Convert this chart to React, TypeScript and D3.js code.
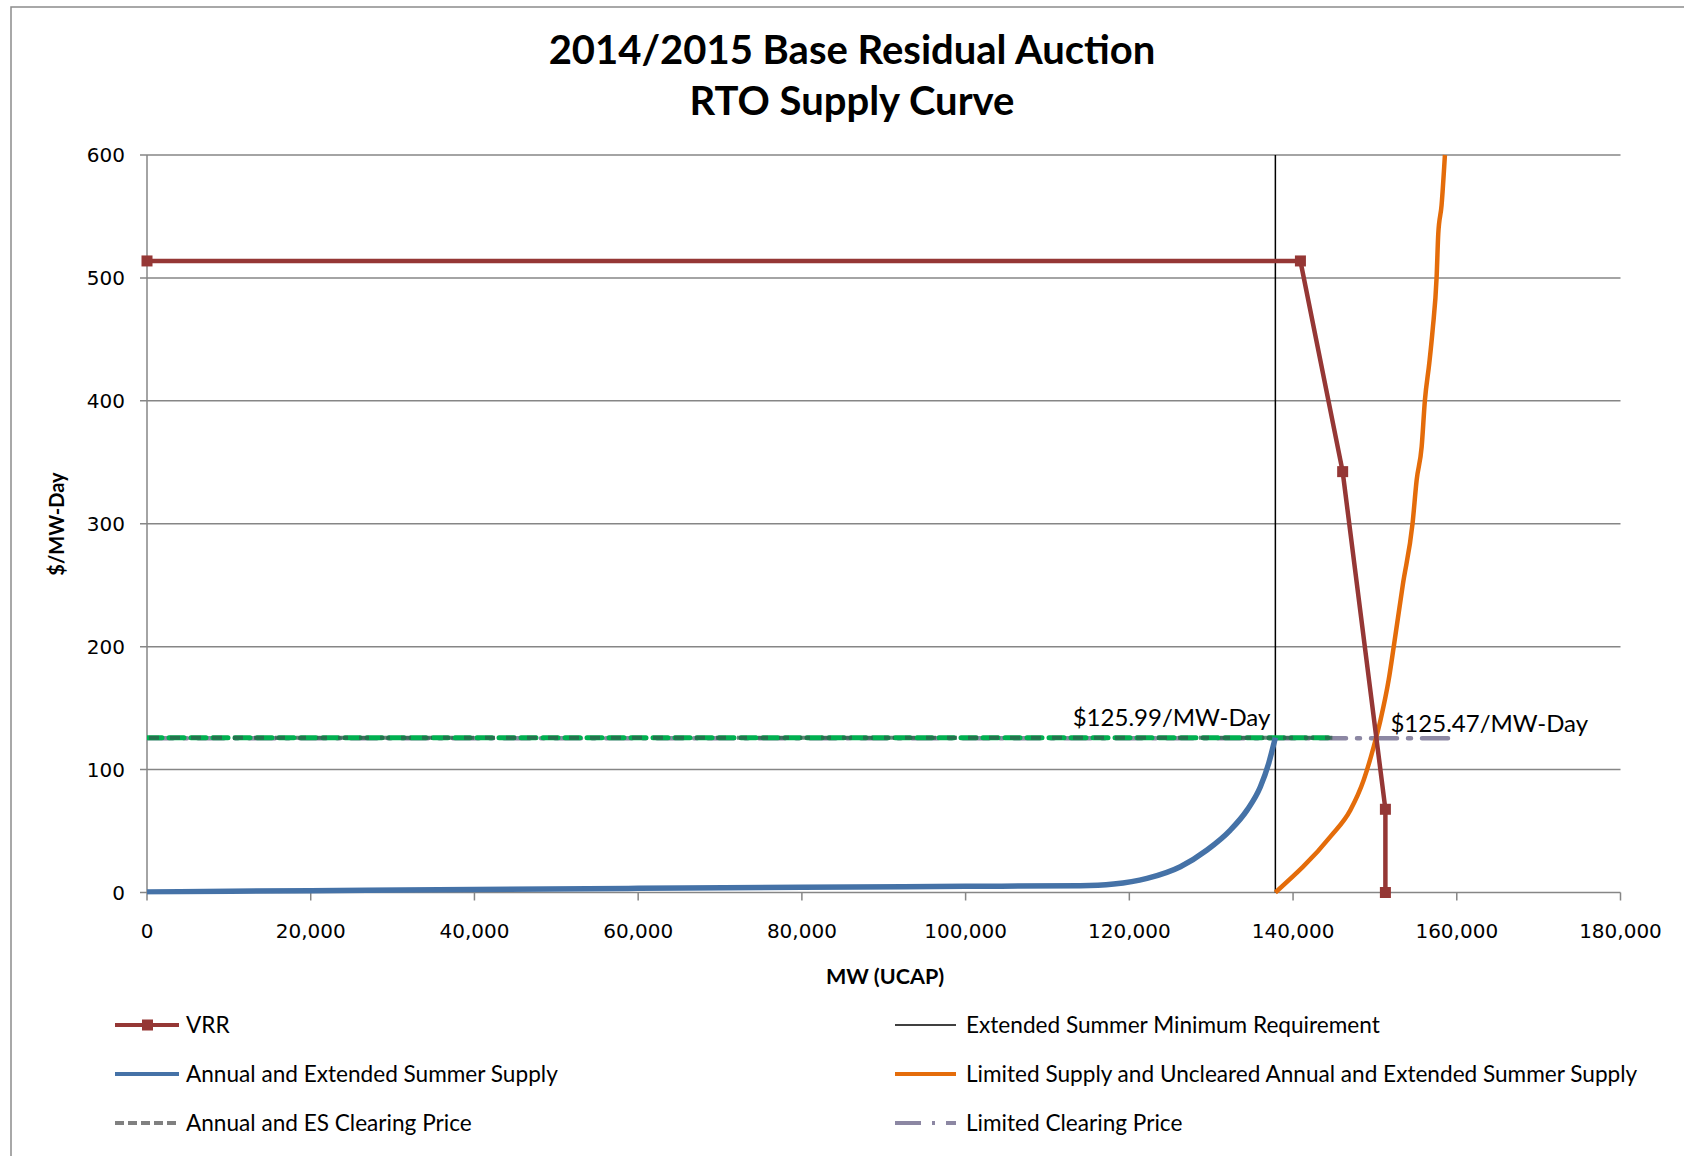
import React from 'react'
import * as d3 from 'd3'

// ---- data ----
const xTicks = [0, 20000, 40000, 60000, 80000, 100000, 120000, 140000, 160000, 180000]
const yTicks = [0, 100, 200, 300, 400, 500, 600]

const vrrMW = [0, 140900, 146060, 151280, 151280]
const vrrPrice = [513.8, 513.8, 342.4, 67.7, 0]

const esMinRequirementMW = 137840

const annualSupplyMW = [
  0, 20000, 40000, 60000, 80000, 100000, 114000, 118090, 122160, 126230,
  129490, 132340, 134380, 136010, 137020, 137840,
]
const annualSupplyPrice = [
  0.5, 1.5, 2.5, 3.4, 4.3, 5.0, 5.5, 6.9, 11.5, 21.0, 34.6, 50.8, 67, 86, 105,
  125.99,
]

const limitedSupplyMW = [
  137840, 144560, 147000, 148630, 149850, 150670, 151680, 152300, 153400,
  154600, 155100, 155710, 156110, 156640, 157050, 157540, 157740, 158140,
  158550,
]
const limitedSupplyPrice = [
  0, 45.4, 67, 91.5, 118.6, 140, 172.9, 200, 250, 300.4, 335.6, 362.7, 400.7,
  430.5, 457.6, 501, 536, 559, 600,
]

const annualClearingPrice = 125.99
const annualClearingMW = [0, 144800]
const limitedClearingPrice = 125.47
const limitedClearingMW = [0, 159400]
const limitedClearingCrossMW = 149700

const titleLines = ['2014/2015 Base Residual Auction', 'RTO Supply Curve']

const colors = {
  vrr: '#953735',
  annual: '#4572A7',
  limited: '#E46C0A',
  green: '#00B050',
  limitedPrice: '#8C87A3',
  esPriceLegend: '#808080',
  grid: '#868686',
}

const W = 1684
const H = 1156
const margin = { left: 147, right: 63.5, top: 155, bottom: 263.5 }

const App: React.FC = () => {
  const x = d3
    .scaleLinear()
    .domain([0, 180000])
    .range([margin.left, W - margin.right])
  const y = d3
    .scaleLinear()
    .domain([0, 600])
    .range([H - margin.bottom, margin.top])

  const line = d3
    .line<[number, number]>()
    .x((d) => x(d[0]))
    .y((d) => y(d[1]))
  const smooth = d3
    .line<[number, number]>()
    .x((d) => x(d[0]))
    .y((d) => y(d[1]))
    .curve(d3.curveMonotoneX)

  const zip = (a: number[], b: number[]) =>
    a.map((v, i) => [v, b[i]] as [number, number])

  const vrr = zip(vrrMW, vrrPrice)
  const annual = zip(annualSupplyMW, annualSupplyPrice)
  const limited = zip(limitedSupplyMW, limitedSupplyPrice)

  const fmt = d3.format(',')
  const label = 'Lato, "Open Sans", sans-serif'
  const tickFont = '"DejaVu Sans", Verdana, sans-serif'

  const legendRows = [1025, 1074, 1123]
  const lx1 = 115
  const lx2 = 895

  const annualPriceLine = line([
    [annualClearingMW[0], annualClearingPrice],
    [annualClearingMW[1], annualClearingPrice],
  ])!
  const limitedPriceLine = line([
    [limitedClearingMW[0], limitedClearingPrice],
    [limitedClearingMW[1], limitedClearingPrice],
  ])!

  return (
    <svg
      width={W}
      height={H}
      style={{ position: 'absolute', left: 0, top: 0, background: '#fff' }}
    >
      <defs>
        <clipPath id="plot">
          <rect
            x={x(0)}
            y={y(600) - 2}
            width={x(180000) - x(0)}
            height={y(0) - y(600) + 4}
          />
        </clipPath>
      </defs>
      {/* outer frame */}
      <path d={`M11,${H + 5} L11,7 L${W + 5},7`} fill="none" stroke="#8c8c8c" strokeWidth={1.5} />

      {/* title */}
      {titleLines.map((t, i) => (
        <text
          key={t}
          x={852}
          y={64 + i * 51}
          textAnchor="middle"
          fontFamily={label}
          fontWeight="bold"
          fontSize={40}
          fill="#000"
        >
          {t}
        </text>
      ))}

      {/* grid */}
      {yTicks.map((t) => (
        <g key={t}>
          <line x1={x(0) - 7} x2={x(180000)} y1={y(t)} y2={y(t)} stroke={colors.grid} strokeWidth={1.5} />
          <text x={125} y={y(t) + 7} textAnchor="end" fontFamily={tickFont} fontSize={20} fill="#000">
            {t}
          </text>
        </g>
      ))}
      <line x1={x(0)} x2={x(0)} y1={y(600)} y2={y(0)} stroke={colors.grid} strokeWidth={1.5} />
      {xTicks.map((t) => (
        <g key={t}>
          <line x1={x(t)} x2={x(t)} y1={y(0)} y2={y(0) + 8} stroke={colors.grid} strokeWidth={1.5} />
          <text x={x(t)} y={938} textAnchor="middle" fontFamily={tickFont} fontSize={20} fill="#000">
            {fmt(t)}
          </text>
        </g>
      ))}

      {/* axis titles */}
      <text x={885} y={984} textAnchor="middle" fontFamily={label} fontWeight="bold" fontSize={21.5}>
        MW (UCAP)
      </text>
      <text
        transform={`translate(64,524) rotate(-90)`}
        textAnchor="middle"
        fontFamily={label}
        fontWeight="bold"
        fontSize={20}
      >
        $/MW-Day
      </text>

      <g clipPath="url(#plot)">
        {/* ES minimum requirement */}
        <line
          x1={x(esMinRequirementMW)}
          x2={x(esMinRequirementMW)}
          y1={y(0)}
          y2={y(600)}
          stroke="#000"
          strokeWidth={1.5}
        />
        {/* limited clearing price */}
        <path
          d={limitedPriceLine}
          stroke={colors.limitedPrice}
          strokeWidth={4.5}
          strokeDasharray="26 11 3 11"
          strokeLinecap="round"
          fill="none"
        />
        {/* annual & ES clearing price */}
        <path
          d={annualPriceLine}
          stroke={colors.green}
          strokeWidth={5}
          strokeDasharray="15 7"
          strokeLinecap="round"
          fill="none"
        />
        <path
          d={annualPriceLine}
          stroke="#2f5f4c"
          strokeOpacity={0.75}
          strokeWidth={4}
          strokeDasharray="10 11"
          strokeDashoffset={-2}
          fill="none"
        />
        {/* supply curves */}
        <path d={smooth(annual)!} stroke={colors.annual} strokeWidth={5.5} fill="none" strokeLinejoin="round" />
        <path d={smooth(limited)!} stroke={colors.limited} strokeWidth={4.5} fill="none" strokeLinejoin="round" />
        {/* VRR */}
        <path d={line(vrr)!} stroke={colors.vrr} strokeWidth={4.5} fill="none" />
      </g>
      {vrr.map((d, i) => (
        <rect key={i} x={x(d[0]) - 5.5} y={y(d[1]) - 5.5} width={11} height={11} fill={colors.vrr} />
      ))}

      {/* price labels */}
      <text
        x={x(esMinRequirementMW) - 5}
        y={y(annualClearingPrice) - 12}
        textAnchor="end"
        fontFamily={label}
        fontSize={24}
      >
        $125.99/MW-Day
      </text>
      <text
        x={x(limitedClearingCrossMW) + 18}
        y={y(limitedClearingPrice) - 6}
        textAnchor="start"
        fontFamily={label}
        fontSize={24}
      >
        $125.47/MW-Day
      </text>

      {/* legend */}
      <g fontFamily={label} fontSize={22.6} fill="#000">
        <line x1={lx1} x2={lx1 + 64} y1={legendRows[0]} y2={legendRows[0]} stroke={colors.vrr} strokeWidth={4} />
        <rect x={lx1 + 27} y={legendRows[0] - 5.5} width={11} height={11} fill={colors.vrr} />
        <text x={186} y={legendRows[0] + 8}>VRR</text>

        <line x1={lx1} x2={lx1 + 64} y1={legendRows[1]} y2={legendRows[1]} stroke={colors.annual} strokeWidth={4} />
        <text x={186} y={legendRows[1] + 8}>Annual and Extended Summer Supply</text>

        <line
          x1={lx1}
          x2={lx1 + 64}
          y1={legendRows[2]}
          y2={legendRows[2]}
          stroke={colors.esPriceLegend}
          strokeWidth={4}
          strokeDasharray="9 4"
        />
        <text x={186} y={legendRows[2] + 8}>Annual and ES Clearing Price</text>

        <line x1={lx2} x2={lx2 + 61} y1={legendRows[0]} y2={legendRows[0]} stroke="#000" strokeWidth={1.5} />
        <text x={966} y={legendRows[0] + 8}>Extended Summer Minimum Requirement</text>

        <line x1={lx2} x2={lx2 + 61} y1={legendRows[1]} y2={legendRows[1]} stroke={colors.limited} strokeWidth={4} />
        <text x={966} y={legendRows[1] + 8}>Limited Supply and Uncleared Annual and Extended Summer Supply</text>

        <line
          x1={lx2}
          x2={lx2 + 61}
          y1={legendRows[2]}
          y2={legendRows[2]}
          stroke={colors.limitedPrice}
          strokeWidth={4}
          strokeDasharray="26 11 3 11"
        />
        <text x={966} y={legendRows[2] + 8}>Limited Clearing Price</text>
      </g>
    </svg>
  )
}

export default App
